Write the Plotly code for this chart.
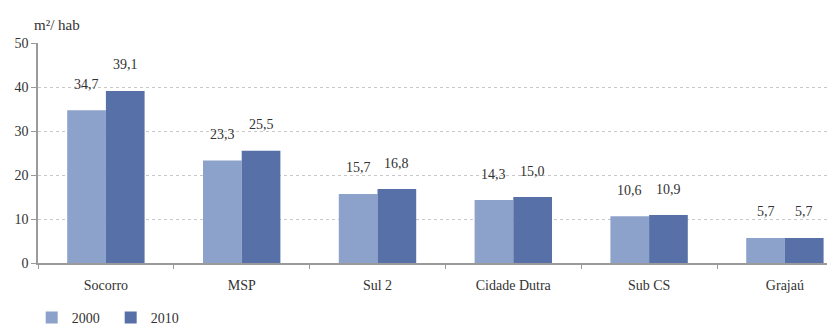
import plotly.graph_objects as go

categories = ["Socorro", "MSP", "Sul 2", "Cidade Dutra", "Sub CS", "Grajaú"]
values_2000 = [34.7, 23.3, 15.7, 14.3, 10.6, 5.7]
values_2010 = [39.1, 25.5, 16.8, 15.0, 10.9, 5.7]
series_names = ["2000", "2010"]
y_ticks = [0, 10, 20, 30, 40, 50]

c2000 = "#8CA2CA"
c2010 = "#5870A8"
font_family = "Liberation Serif, DejaVu Serif, serif"
text_color = "#333333"

bw = 0.285
fig = go.Figure()
fig.add_trace(go.Bar(x=categories, y=values_2000, name=series_names[0],
                     marker=dict(color=c2000, line=dict(width=0)),
                     width=bw, offset=-bw))
fig.add_trace(go.Bar(x=categories, y=values_2010, name=series_names[1],
                     marker=dict(color=c2010, line=dict(width=0)),
                     width=bw, offset=0))

def fmt(v):
    return f"{v:.1f}".replace(".", ",")

annotations = []
for i, (a, b) in enumerate(zip(values_2000, values_2010)):
    for xo, v in ((i - bw / 2, a), (i + bw / 2, b)):
        annotations.append(dict(x=xo, y=v, xref="x", yref="y", text=fmt(v),
                                showarrow=False, yanchor="middle", yshift=26,
                                font=dict(size=14, color=text_color, family=font_family)))
annotations.append(dict(xref="x domain", yref="y domain", x=-6/789, y=1 + 18/220,
                        text="m²/ hab", showarrow=False,
                        xanchor="left", yanchor="middle",
                        font=dict(size=15, color=text_color, family=font_family)))

fig.update_layout(
    width=827, height=325,
    margin=dict(l=38, r=0, t=43, b=62, autoexpand=False),
    plot_bgcolor="white", paper_bgcolor="white",
    font=dict(family=font_family, size=14, color=text_color),
    barmode="group",
    showlegend=True,
    legend=dict(orientation="h", x=-0.008, xanchor="left", y=-0.25, yanchor="middle",
                font=dict(size=14, color=text_color, family=font_family),
                entrywidth=34, itemwidth=30, bgcolor="rgba(0,0,0,0)"),
    annotations=annotations,
)
fig.update_xaxes(range=[-0.5, 5.31], showline=True, linecolor="#9a9a9a", linewidth=1.5,
                 ticks="outside", tickson="boundaries", ticklen=4, tickcolor="#9a9a9a",
                 showgrid=False, ticklabelstandoff=8, tickfont=dict(size=14, color=text_color))
fig.update_yaxes(range=[0, 50], tickvals=y_ticks, showline=True, linecolor="#9a9a9a",
                 linewidth=1.5, ticks="outside", ticklen=5, tickcolor="#9a9a9a",
                 showgrid=True, gridcolor="#c8c8c8", griddash="dot", gridwidth=1,
                 zeroline=False, tickfont=dict(size=14, color=text_color))

fig.write_html("out.html")
